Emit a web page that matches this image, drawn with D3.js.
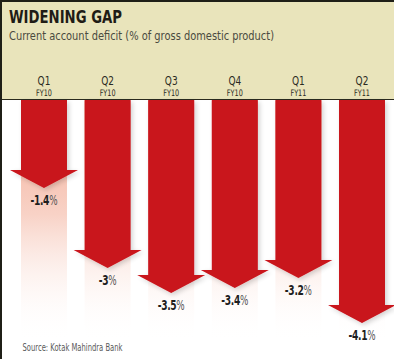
<!DOCTYPE html>
<html>
<head>
<meta charset="utf-8">
<script src="https://cdn.jsdelivr.net/npm/d3@7"></script>
<style>
  html,body{margin:0;padding:0;background:#fff;}
  svg{display:block;}
  text{font-family:"DejaVu Sans",sans-serif;}
</style>
</head>
<body>
<svg id="chart" width="394" height="359"></svg>
<script>
const quarters = ["Q1","Q2","Q3","Q4","Q1","Q2"];
const fiscalYears = ["FY10","FY10","FY10","FY10","FY11","FY11"];
const deficit = [-1.4, -3, -3.5, -3.4, -3.2, -4.1];
const valueLabels = ["-1.4","-3","-3.5","-3.4","-3.2","-4.1"];

const W = 394, H = 359;
const svg = d3.select("#chart");
const keys = quarters.map((q,i)=>q+" "+fiscalYears[i]);
const data = keys.map((k,i)=>({key:k,q:quarters[i],fy:fiscalYears[i],v:deficit[i],lab:valueLabels[i]}));

const x = d3.scaleBand().domain(keys).range([21,385]).paddingInner(0.277).paddingOuter(0);
const y = d3.scaleLinear().domain([0, -4.1]).range([118, 323]);

const headerBottom = 99.5;
const red = "#c9141c";

// header background
svg.append("rect").attr("x",0).attr("y",0).attr("width",W).attr("height",headerBottom).attr("fill","#e9e4bb");
svg.append("line").attr("x1",0).attr("x2",W).attr("y1",headerBottom).attr("y2",headerBottom).attr("stroke","#2a2a1e").attr("stroke-width",1.2);

// gradient
const defs = svg.append("defs");
const g = defs.append("linearGradient").attr("id","fade").attr("gradientUnits","userSpaceOnUse")
  .attr("x1",0).attr("y1",110).attr("x2",0).attr("y2",342);
g.append("stop").attr("offset",0).attr("stop-color","#f4ad97");
g.append("stop").attr("offset",0.45).attr("stop-color","#f8d2c6");
g.append("stop").attr("offset",1).attr("stop-color","#ffffff").attr("stop-opacity",0);

const shadow = defs.append("filter").attr("id","sh").attr("x","-20%").attr("y","-10%").attr("width","140%").attr("height","130%");
shadow.append("feGaussianBlur").attr("in","SourceAlpha").attr("stdDeviation",2.5);
shadow.append("feOffset").attr("dx",2).attr("dy",2).attr("result","b");
shadow.append("feComponentTransfer").append("feFuncA").attr("type","linear").attr("slope",0.18);
const mg = shadow.append("feMerge");
mg.append("feMergeNode");
mg.append("feMergeNode").attr("in","SourceGraphic");

// fade columns
svg.append("g").selectAll("rect").data(data).join("rect")
  .attr("x",d=>x(d.key)).attr("width",x.bandwidth())
  .attr("y",headerBottom+1).attr("height",342-headerBottom-1)
  .attr("fill","url(#fade)");

// arrows
const headH = 18, headExtra = 11;
svg.append("g").attr("filter","url(#sh)").selectAll("path").data(data).join("path")
  .attr("d",d=>{
    const x0 = x(d.key), bw = x.bandwidth(), cx = x0+bw/2;
    const tip = y(d.v), base = tip-headH;
    const p = d3.path();
    p.moveTo(x0, headerBottom+0.6);
    p.lineTo(x0+bw, headerBottom+0.6);
    p.lineTo(x0+bw, base);
    p.lineTo(x0+bw+headExtra, base);
    p.lineTo(cx, tip);
    p.lineTo(x0-headExtra, base);
    p.lineTo(x0, base);
    p.closePath();
    return p.toString();
  })
  .attr("fill",red);

// value labels (condensed via horizontal scale)
const vl = svg.append("g").selectAll("text").data(data).join("text")
  .attr("transform",d=>`translate(${x(d.key)+x.bandwidth()/2},${y(d.v)+16.5}) scale(0.63,1)`)
  .attr("text-anchor","middle").attr("fill","#1e1e1e");
vl.append("tspan").text(d=>d.lab).attr("font-weight","bold").attr("font-size",14.5).attr("letter-spacing",-0.5);
vl.append("tspan").text("%").attr("font-size",14).attr("fill","#555");

// header category labels
svg.append("g").selectAll("text").data(data).join("text")
  .attr("transform",d=>`translate(${x(d.key)+x.bandwidth()/2},85) scale(0.72,1)`)
  .attr("text-anchor","middle").attr("font-size",12.5).attr("fill","#2a2a22")
  .text(d=>d.q);
svg.append("g").selectAll("text").data(data).join("text")
  .attr("transform",d=>`translate(${x(d.key)+x.bandwidth()/2},95.5) scale(0.72,1)`)
  .attr("text-anchor","middle").attr("font-size",9).attr("fill","#2a2a22")
  .text(d=>d.fy);

// title
svg.append("text").attr("x",9).attr("y",22.5).attr("font-size",18.5).attr("font-weight","bold")
  .attr("fill","#1f1c16").attr("textLength",113).attr("lengthAdjust","spacingAndGlyphs").text("WIDENING GAP");
svg.append("text").attr("x",9).attr("y",40).attr("font-size",12.5).attr("fill","#4a4a40")
  .attr("textLength",265).attr("lengthAdjust","spacingAndGlyphs").text("Current account deficit (% of gross domestic product)");

// source
svg.append("text").attr("x",22.5).attr("y",351).attr("font-size",10.5).attr("fill","#5a5a5a")
  .attr("textLength",100).attr("lengthAdjust","spacingAndGlyphs").text("Source: Kotak Mahindra Bank");

// border
svg.append("rect").attr("x",0).attr("y",0).attr("width",W).attr("height",2).attr("fill","#1f1f17");
svg.append("rect").attr("x",0).attr("y",0).attr("width",2).attr("height",H).attr("fill","#1f1f17");
</script>
</body>
</html>
